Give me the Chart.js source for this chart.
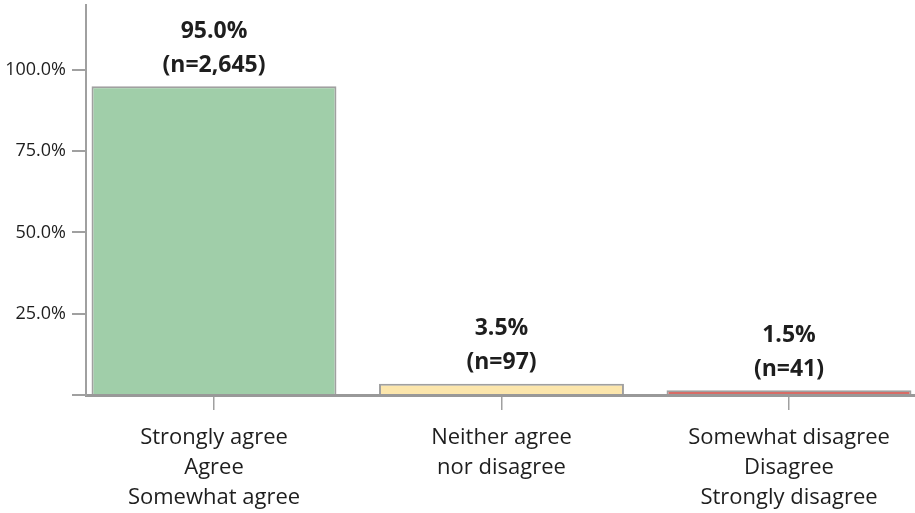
<!DOCTYPE html>
<html>
<head>
<meta charset="utf-8">
<title>Agreement</title>
<script src="https://cdn.jsdelivr.net/npm/chart.js@4/dist/chart.umd.min.js"></script>
<style>
  html, body { margin: 0; padding: 0; background: #ffffff; overflow: hidden; }
  canvas { display: block; }
</style>
</head>
<body>
<canvas id="chart" width="915" height="513"></canvas>
<script>
// response groups, one bar each
const categories = [
    ['Strongly agree', 'Agree', 'Somewhat agree'],
    ['Neither agree', 'nor disagree'],
    ['Somewhat disagree', 'Disagree', 'Strongly disagree']
];
const percents = [95.0, 3.5, 1.5];
const counts = [2645, 97, 41];
const barColors = ['#a0cea9', '#fce6ac', '#d86c66'];
const yTicks = [0, 25, 50, 75, 100];

const axisGray = '#a0a0a0';
const textColor = '#1e1e1e';
const fontFamily = '"Open Sans", Lato, sans-serif';

// percentage and count printed over each bar
const barLabels = {
    id: 'barLabels',
    afterDatasetsDraw(chart) {
        const ctx = chart.ctx;
        const meta = chart.getDatasetMeta(0);
        ctx.save();
        ctx.fillStyle = textColor;
        ctx.font = `bold 23px ${fontFamily}`;
        ctx.textAlign = 'center';
        ctx.textBaseline = 'middle';
        meta.data.forEach((bar, i) => {
            ctx.fillText(percents[i].toFixed(1) + '%', bar.x, bar.y - 55);
            ctx.fillText('(n=' + counts[i].toLocaleString('en-US') + ')', bar.x, bar.y - 21);
        });
        ctx.restore();
    }
};

new Chart(document.getElementById('chart'), {
    type: 'bar',
    data: {
        datasets: [{
            data: percents.map((v, i) => ({ x: i, y: v })),
            backgroundColor: barColors,
            borderColor: axisGray,
            borderWidth: 2,
            borderSkipped: 'start',
            barPercentage: 0.852,
            categoryPercentage: 1
        }]
    },
    options: {
        responsive: false,
        devicePixelRatio: 1,
        animation: false,
        layout: { padding: { top: 5, right: 0, left: 0, bottom: 0 } },
        plugins: {
            legend: { display: false },
            tooltip: { enabled: false }
        },
        scales: {
            x: {
                type: 'linear',
                offset: false,
                min: -0.4452,
                max: 2.4383,
                afterBuildTicks(scale) {
                    scale.ticks = categories.map((c, i) => ({ value: i }));
                },
                afterFit(scale) {
                    scale.height = 118;
                    scale.paddingLeft = 0;
                    scale.paddingRight = 0;
                },
                border: { display: true, color: '#999999', width: 3 },
                grid: {
                    offset: false,
                    drawOnChartArea: false,
                    drawTicks: true,
                    tickLength: 15,
                    color: axisGray,
                    lineWidth: 1.5
                },
                ticks: {
                    autoSkip: false,
                    maxRotation: 0,
                    padding: 13,
                    color: textColor,
                    font: { family: fontFamily, size: 22, lineHeight: 1.364 },
                    callback: (value) => categories[value]
                }
            },
            y: {
                min: 0,
                max: 120,
                afterBuildTicks(scale) {
                    scale.ticks = yTicks.map(v => ({ value: v }));
                },
                afterFit(scale) {
                    scale.width = 86;
                    scale.paddingTop = 0;
                    scale.paddingBottom = 0;
                },
                border: { display: true, color: axisGray, width: 2 },
                grid: {
                    drawOnChartArea: false,
                    drawTicks: true,
                    tickLength: 14,
                    color: axisGray,
                    lineWidth: 2
                },
                ticks: {
                    padding: 6,
                    color: textColor,
                    font: { family: fontFamily, size: 18 },
                    callback: (value) => value === 0 ? '' : value.toFixed(1) + '%'
                }
            }
        }
    },
    plugins: [barLabels]
});
</script>
</body>
</html>
